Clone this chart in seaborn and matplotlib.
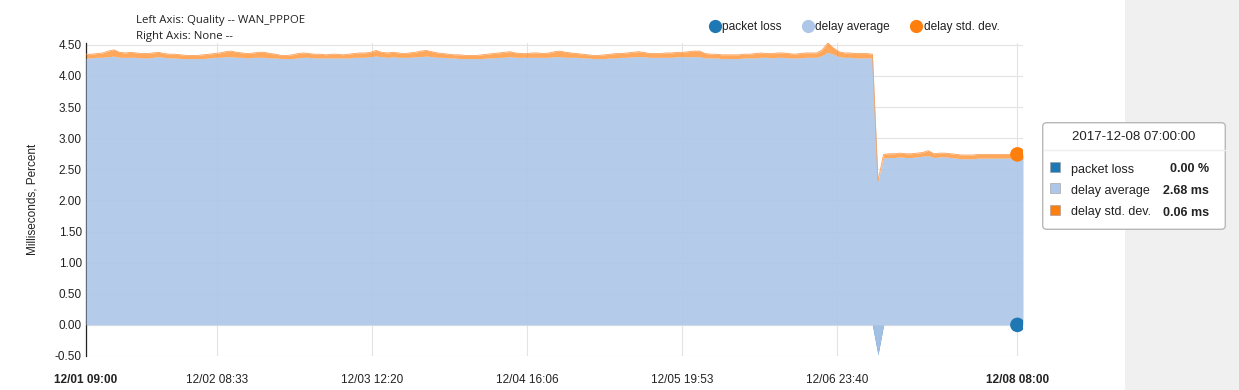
import numpy as np
import pandas as pd
import matplotlib
matplotlib.use("Agg")
import matplotlib.pyplot as plt
import seaborn as sns
from matplotlib.lines import Line2D
from matplotlib.patches import FancyBboxPatch, Rectangle

# ---------------- data (hourly samples from 2017-12-01 09:00) ----------------
start_time = "2017-12-01 09:00"

delay_avg = [
    4.29, 4.29, 4.30, 4.30, 4.31, 4.32, 4.30, 4.30, 4.30, 4.30, 4.29, 4.29,
    4.30, 4.31, 4.30, 4.29, 4.29, 4.28, 4.28, 4.28, 4.28, 4.28, 4.29, 4.30,
    4.30, 4.31, 4.31, 4.30, 4.30, 4.29, 4.30, 4.30, 4.30, 4.29, 4.29, 4.28,
    4.28, 4.28, 4.29, 4.30, 4.30, 4.29, 4.29, 4.29, 4.29, 4.29, 4.29, 4.29,
    4.30, 4.30, 4.30, 4.31, 4.32, 4.31, 4.30, 4.31, 4.30, 4.30, 4.30, 4.31,
    4.31, 4.32, 4.31, 4.30, 4.30, 4.29, 4.29, 4.28, 4.28, 4.28, 4.28, 4.28,
    4.29, 4.29, 4.30, 4.30, 4.31, 4.30, 4.30, 4.30, 4.30, 4.30, 4.30, 4.30,
    4.31, 4.31, 4.30, 4.30, 4.30, 4.29, 4.29, 4.28, 4.28, 4.28, 4.29, 4.29,
    4.30, 4.30, 4.31, 4.31, 4.31, 4.30, 4.30, 4.30, 4.30, 4.30, 4.31, 4.31,
    4.31, 4.31, 4.31, 4.29, 4.29, 4.29, 4.28, 4.28, 4.28, 4.28, 4.29, 4.29,
    4.29, 4.30, 4.30, 4.29, 4.30, 4.30, 4.29, 4.29, 4.29, 4.30, 4.30, 4.30,
    4.33, 4.38, 4.35, 4.31, 4.30, 4.30, 4.29, 4.29, 4.29, 4.29, 2.79, 2.68,
    2.69, 2.69, 2.70, 2.69, 2.69, 2.70, 2.71, 2.72, 2.69, 2.70, 2.70, 2.69,
    2.68, 2.67, 2.67, 2.67, 2.68, 2.68, 2.68, 2.68, 2.68, 2.68, 2.68, 2.68,
    2.68,
]

delay_std = [
    0.06, 0.06, 0.06, 0.07, 0.09, 0.10, 0.08, 0.07, 0.08, 0.07, 0.07, 0.07,
    0.07, 0.07, 0.06, 0.06, 0.06, 0.06, 0.05, 0.05, 0.05, 0.06, 0.06, 0.06,
    0.07, 0.08, 0.09, 0.08, 0.07, 0.07, 0.07, 0.08, 0.08, 0.07, 0.06, 0.05,
    0.05, 0.06, 0.07, 0.07, 0.06, 0.06, 0.06, 0.05, 0.06, 0.06, 0.05, 0.06,
    0.06, 0.07, 0.07, 0.07, 0.09, 0.07, 0.07, 0.07, 0.07, 0.06, 0.07, 0.07,
    0.09, 0.09, 0.08, 0.07, 0.06, 0.06, 0.05, 0.06, 0.05, 0.05, 0.05, 0.06,
    0.06, 0.07, 0.07, 0.08, 0.08, 0.07, 0.06, 0.06, 0.07, 0.07, 0.06, 0.07,
    0.08, 0.09, 0.08, 0.07, 0.06, 0.06, 0.05, 0.05, 0.05, 0.06, 0.06, 0.07,
    0.06, 0.07, 0.07, 0.08, 0.07, 0.06, 0.06, 0.06, 0.07, 0.07, 0.07, 0.07,
    0.08, 0.09, 0.09, 0.07, 0.06, 0.06, 0.06, 0.06, 0.06, 0.06, 0.06, 0.06,
    0.07, 0.07, 0.06, 0.07, 0.07, 0.07, 0.07, 0.06, 0.07, 0.07, 0.07, 0.07,
    0.09, 0.15, 0.10, 0.08, 0.07, 0.07, 0.07, 0.07, 0.07, 0.06, 0.00, 0.06,
    0.06, 0.06, 0.06, 0.06, 0.06, 0.06, 0.06, 0.08, 0.06, 0.06, 0.06, 0.06,
    0.06, 0.06, 0.06, 0.06, 0.06, 0.06, 0.06, 0.06, 0.06, 0.06, 0.06, 0.06,
    0.06,
]

packet_loss = [
    0.00, 0.00, 0.00, 0.00, 0.00, 0.00, 0.00, 0.00, 0.00, 0.00, 0.00, 0.00,
    0.00, 0.00, 0.00, 0.00, 0.00, 0.00, 0.00, 0.00, 0.00, 0.00, 0.00, 0.00,
    0.00, 0.00, 0.00, 0.00, 0.00, 0.00, 0.00, 0.00, 0.00, 0.00, 0.00, 0.00,
    0.00, 0.00, 0.00, 0.00, 0.00, 0.00, 0.00, 0.00, 0.00, 0.00, 0.00, 0.00,
    0.00, 0.00, 0.00, 0.00, 0.00, 0.00, 0.00, 0.00, 0.00, 0.00, 0.00, 0.00,
    0.00, 0.00, 0.00, 0.00, 0.00, 0.00, 0.00, 0.00, 0.00, 0.00, 0.00, 0.00,
    0.00, 0.00, 0.00, 0.00, 0.00, 0.00, 0.00, 0.00, 0.00, 0.00, 0.00, 0.00,
    0.00, 0.00, 0.00, 0.00, 0.00, 0.00, 0.00, 0.00, 0.00, 0.00, 0.00, 0.00,
    0.00, 0.00, 0.00, 0.00, 0.00, 0.00, 0.00, 0.00, 0.00, 0.00, 0.00, 0.00,
    0.00, 0.00, 0.00, 0.00, 0.00, 0.00, 0.00, 0.00, 0.00, 0.00, 0.00, 0.00,
    0.00, 0.00, 0.00, 0.00, 0.00, 0.00, 0.00, 0.00, 0.00, 0.00, 0.00, 0.00,
    0.00, 0.00, 0.00, 0.00, 0.00, 0.00, 0.00, 0.00, 0.00, 0.00, -0.48, 0.00,
    0.00, 0.00, 0.00, 0.00, 0.00, 0.00, 0.00, 0.00, 0.00, 0.00, 0.00, 0.00,
    0.00, 0.00, 0.00, 0.00, 0.00, 0.00, 0.00, 0.00, 0.00, 0.00, 0.00, 0.00,
    0.00,
]

series_names = ["packet loss", "delay average", "delay std. dev."]
series_colors = ["#1f77b4", "#aec7e8", "#ff7f0e"]
series_units = ["%", "ms", "ms"]

x_tick_labels = ["12/01 09:00", "12/02 08:33", "12/03 12:20", "12/04 16:06",
                 "12/05 19:53", "12/06 23:40", "12/08 08:00"]
y_ticks = [-0.5, 0.0, 0.5, 1.0, 1.5, 2.0, 2.5, 3.0, 3.5, 4.0, 4.5]

hover_time = "2017-12-08 08:00"
hover_title = "2017-12-08 07:00:00"
header_lines = ["Left Axis: Quality -- WAN_PPPOE", "Right Axis: None --"]
y_label = "Milliseconds, Percent"

# ---------------- build frame ----------------
times = pd.date_range(start_time, periods=len(delay_avg), freq="h")
df = pd.DataFrame({"time": times, "loss": packet_loss,
                   "avg": delay_avg, "std": delay_std})
df["top_loss"] = df["loss"]
df["top_avg"] = df["loss"] + df["avg"]
df["top_std"] = df["top_avg"] + df["std"]

# ---------------- figure ----------------
sns.set_theme(style="white")
plt.rcParams["font.family"] = ["Liberation Sans", "DejaVu Sans"]

W, H = 1239, 390
fig = plt.figure(figsize=(W / 100, H / 100), dpi=100)
fig.patch.set_facecolor("white")

# right grey panel
fig.add_artist(Rectangle((1125 / W, 0), (W - 1125) / W, 1, transform=fig.transFigure,
                         facecolor="#f0f0f0", edgecolor="none", zorder=-5))

ax = fig.add_axes([86 / W, 1 - 356 / H, (1023 - 86) / W, (356 - 43) / H])
ax.set_facecolor("white")

# stacked areas
ax.fill_between(df["time"], 0, df["top_loss"], color=series_colors[0], lw=0, zorder=2)
ax.fill_between(df["time"], df["top_loss"], df["top_avg"], color=series_colors[1],
                alpha=0.92, lw=0, zorder=3)
ax.fill_between(df["time"], df["top_avg"], df["top_std"], color=series_colors[2],
                alpha=0.68, lw=0, zorder=4)
sns.lineplot(data=df, x="time", y="top_std", ax=ax, color="#f7a15c", lw=0.6, zorder=5)

# hover markers
h = df[df["time"] == pd.Timestamp(hover_time)].iloc[0]
mk = pd.DataFrame({"time": [h["time"], h["time"]],
                   "val": [h["top_loss"], h["top_std"]],
                   "s": [series_names[0], series_names[2]]})
sns.scatterplot(data=mk, x="time", y="val", hue="s",
                palette={series_names[0]: series_colors[0], series_names[2]: series_colors[2]},
                s=110, edgecolor="none", ax=ax, legend=False, zorder=6)

# axes styling
x_tick_pos = [pd.to_datetime("2017/" + t, format="%Y/%m/%d %H:%M") for t in x_tick_labels]
ax.set_xlim(times[0], times[-1])
ax.set_ylim(-0.5, 4.53)
ax.set_xticks(x_tick_pos)
ax.set_xticklabels(x_tick_labels, fontsize=8.5, color="#222")
for i in (0, len(x_tick_labels) - 1):
    ax.get_xticklabels()[i].set_fontweight("bold")
ax.set_yticks(y_ticks)
ax.set_yticklabels([f"{v:.2f}" for v in y_ticks], fontsize=8.5, color="#222")
ax.tick_params(axis="x", length=0, pad=13)
ax.tick_params(axis="y", length=0, pad=3)
ax.grid(True, color="#e3e3e3", lw=0.8, zorder=0)
ax.set_axisbelow(True)
for s in ("top", "right", "bottom"):
    ax.spines[s].set_visible(False)
ax.spines["left"].set_color("#222")
ax.spines["left"].set_linewidth(0.9)
ax.set_xlabel("")
ax.set_ylabel(y_label, fontsize=8.5, color="#222", labelpad=12)

# header text
fig.text(136 / W, 1 - 20 / H, header_lines[0], fontsize=8.2, color="#222",
         family=["Open Sans", "DejaVu Sans"], va="center")
fig.text(136 / W, 1 - 37 / H, header_lines[1], fontsize=8.2, color="#222",
         family=["Open Sans", "DejaVu Sans"], va="center")

# legend
handles = [Line2D([], [], marker="o", ls="", markersize=9.5, color=c, markeredgewidth=0)
           for c in series_colors]
fig.legend(handles, series_names, loc="center left", bbox_to_anchor=(701 / W, 1 - 27 / H),
           ncol=3, frameon=False, fontsize=8.6, handletextpad=-0.1, columnspacing=1.5,
           handlelength=1.4, borderpad=0, labelcolor="#222")

# tooltip
tw, th = 1226 - 1042, 230 - 122
tax = fig.add_axes([1042 / W, 1 - 230 / H, tw / W, th / H])
tax.set_xlim(0, tw)
tax.set_ylim(th, 0)
tax.axis("off")
tax.add_patch(FancyBboxPatch((0.7, 0.7), tw - 1.4, th - 1.4,
                             boxstyle="round,pad=0,rounding_size=4",
                             facecolor="white", edgecolor="#b8b8b8", lw=1.0, clip_on=False))
tax.text(tw / 2, 15, hover_title, ha="center", va="center", fontsize=9.5, color="#222")
tax.plot([1.5, tw - 1.5], [28, 28], color="#eeeeee", lw=1)
vals = [h["loss"], h["avg"], h["std"]]
for i, (nm, c, u, v) in enumerate(zip(series_names, series_colors, series_units, vals)):
    yy = 46 + i * 21.5
    tax.add_patch(Rectangle((8, yy - 6.5), 10, 10, facecolor=c, edgecolor="#999", lw=0.4))
    tax.text(29, yy, nm, va="center_baseline", fontsize=9, color="#222")
    tax.text(167, yy, f"{v:.2f} {u}", va="center_baseline", ha="right", fontsize=9,
             fontweight="bold", color="#222")

fig.savefig("out.png", dpi=100)
